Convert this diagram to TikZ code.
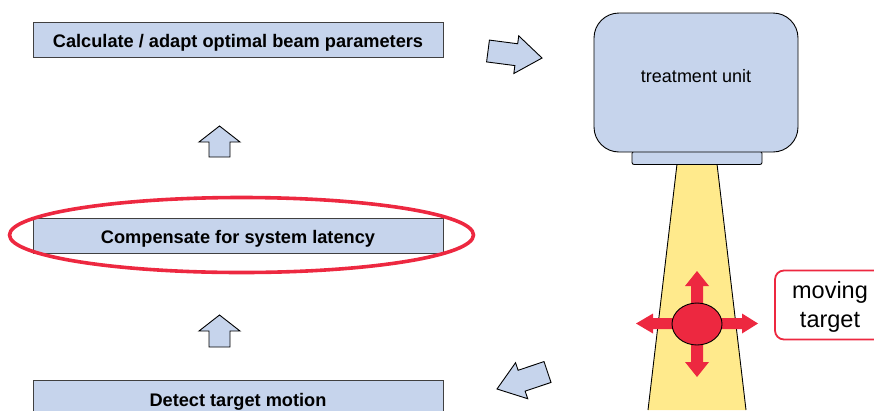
\documentclass[tikz,border=0pt]{standalone}
\usepackage{fontspec}
\setmainfont{Liberation Sans}
\usetikzlibrary{shapes.geometric}
\definecolor{boxblue}{RGB}{198,212,236}
\definecolor{beamyellow}{RGB}{255,234,140}
\definecolor{alertred}{RGB}{237,40,64}
% block arrow: [style]{tail centre}{angle}{length}{shaft half width}{head half width}{head length}
\newcommand\bkarrow[7][]{%
  \draw[blockarrow,#1,shift={(#2)},rotate=#3]
    (0,-#5) -- ({#4-#7},-#5) -- ({#4-#7},-#6) -- (#4,0)
    -- ({#4-#7},#6) -- ({#4-#7},#5) -- (0,#5) -- cycle;}
\begin{document}
\begin{tikzpicture}[x=1pt,y=-1pt,
  stepbox/.style={draw=black!75, line width=0.9pt, fill=boxblue,
    minimum width=410pt, minimum height=35pt, inner sep=0pt,
    text height=16pt, text depth=0pt,
    font=\bfseries\fontsize{18.2}{20}\selectfont},
  blockarrow/.style={draw=black, fill=boxblue, line width=0.9pt, line join=miter}]
\useasboundingbox (0,0) rectangle (874,410);

% process steps
\node[stepbox] (calc) at (238,39.5) {Calculate / adapt optimal beam parameters};
\node[stepbox] (comp) at (238,235.5) {Compensate for system latency};
\node[stepbox, minimum height=37pt] (detect) at (238,398.5) {Detect target motion};

% highlight around the latency step
\node[ellipse, draw=alertred, line width=3.6pt, minimum width=464pt,
  minimum height=75pt, inner sep=0pt] (highlight) at (241.5,235) {};

% flow arrows between the steps
\bkarrow{219.5,157}{90}{31}{10.5}{20.5}{16}
\bkarrow{219.5,347}{90}{32}{10.5}{20.5}{16}
\bkarrow{488,51}{-7.4}{54.5}{11}{19}{26}
\bkarrow{547.5,372}{198.6}{53.3}{11}{19}{26}

% radiation beam
\fill[beamyellow] (677,164) -- (717,164) -- (746,410) -- (648,410) -- cycle;
\draw[line width=0.9pt] (677,164) -- (648,410);
\draw[line width=0.9pt] (717,164) -- (746,410);

% treatment unit with its collimator head
\node[draw, line width=0.9pt, fill=boxblue, rounded corners=2pt,
  minimum width=130pt, minimum height=13pt, inner sep=0pt, anchor=north]
  (collimator) at (697,151) {};
\node[draw, line width=0.9pt, fill=boxblue, rounded corners=25pt,
  minimum width=204pt, minimum height=139pt, inner sep=0pt,
  text height=0pt, text depth=0pt,
  font=\fontsize{18}{20}\selectfont] (unit) at (696,82.5) {treatment unit};

% motion arrows of the target
\fill[alertred] (636,323.5) -- (653,313.5) -- (653,318) -- (742,318) -- (742,313.5)
  -- (758,323.5) -- (742,333.5) -- (742,329) -- (653,329) -- (653,333.5) -- cycle;
\fill[alertred] (697,271) -- (709,286) -- (703,286) -- (703,362) -- (709,362)
  -- (697,377) -- (685,362) -- (691,362) -- (691,286) -- (685,286) -- cycle;
\node[ellipse, draw, line width=0.9pt, fill=alertred, minimum width=50pt,
  minimum height=42pt, inner sep=0pt] (target) at (697,324) {};

% label (the node baseline is that of the last line)
\node[draw=alertred, line width=1.8pt, fill=white, rounded corners=9pt,
  minimum width=110pt, minimum height=69pt, inner sep=0pt, align=center,
  text height=50pt, text depth=6pt,
  font=\fontsize{23.5}{29}\selectfont] (label) at (830,305) {moving\\target};
\end{tikzpicture}
\end{document}
